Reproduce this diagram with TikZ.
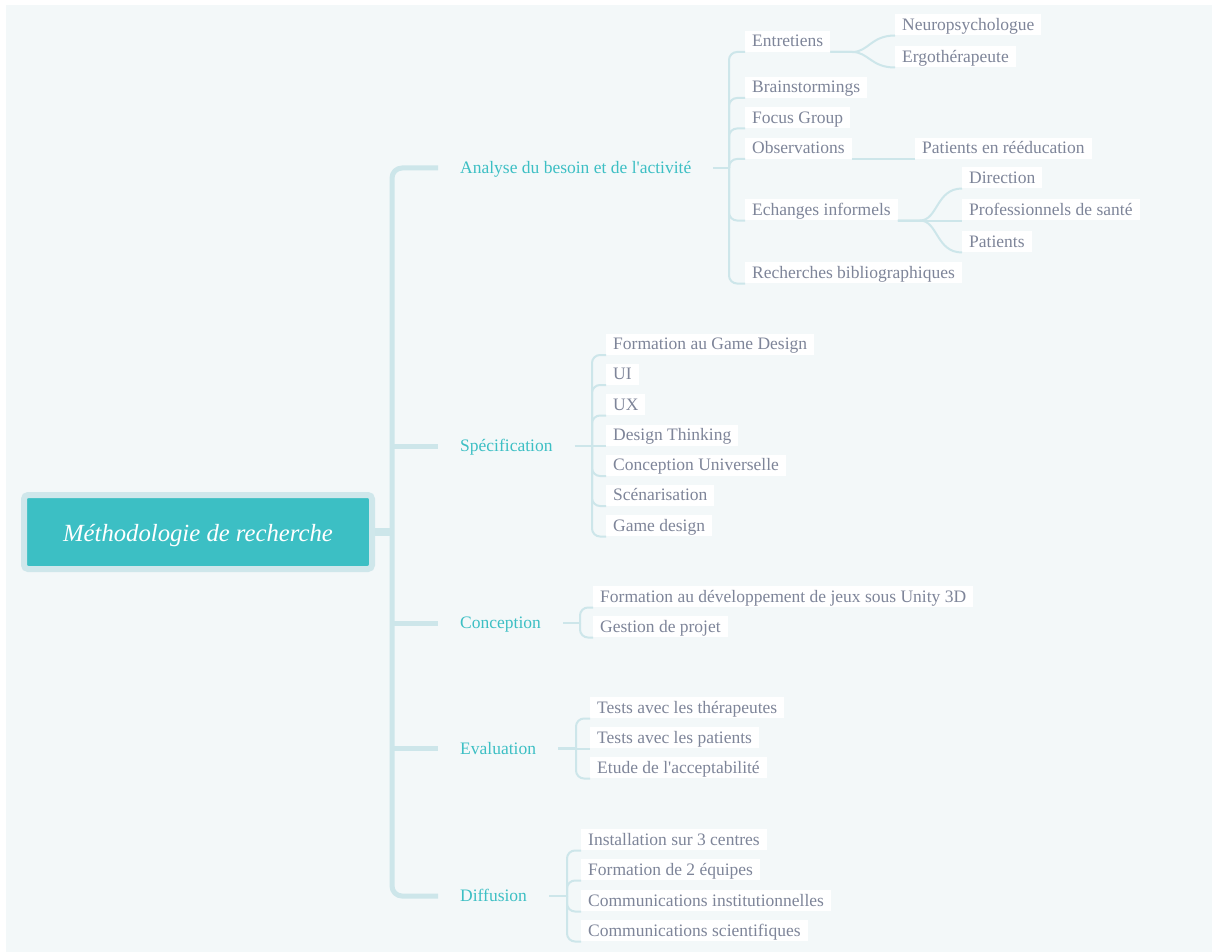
\documentclass[tikz,border=0pt]{standalone}
\usepackage{fontspec}
\setmainfont{Liberation Serif}
\usepackage{tikz}

\definecolor{bgmap}{HTML}{F3F8F9}
\definecolor{mapteal}{HTML}{3CBFC4}
\definecolor{mapglow}{HTML}{CFE7EB}
\definecolor{mapline}{HTML}{CDE6EA}
\definecolor{leaftext}{HTML}{7E8599}

\tikzset{
  rootbox/.style={fill=mapteal, draw=mapglow, line width=6pt, rounded corners=4pt,
    minimum width=348pt, minimum height=74pt, text=white,
    text height=18pt, text depth=0pt,
    font=\fontsize{24.7}{28}\selectfont\itshape},
  branch/.style={anchor=west, inner xsep=22pt, text=mapteal,
    text height=13.5pt, text depth=2.5pt,
    font=\fontsize{17.5}{20}\selectfont},
  leaf/.style={anchor=south west, fill=white, inner xsep=7pt, inner ysep=2.5pt,
    text height=13.5pt, text depth=2.5pt, text=leaftext,
    font=\fontsize{17.5}{20}\selectfont},
  trunk/.style={draw=mapline, line width=5pt, rounded corners=10pt},
  conn/.style={draw=mapline, line width=2pt, rounded corners=8pt},
}

\begin{document}
\begin{tikzpicture}[x=1pt, y=-1pt]
  \useasboundingbox (0,0) rectangle (1212,952);
  \fill[bgmap] (6,5) rectangle (1212,952);
  % central topic
  \node[rootbox] (root) at (198,532) {Méthodologie de recherche};
  % main branches
  \node[branch] (b1) at (438,168) {Analyse du besoin et de l\textquotesingle activité};
  \node[branch] (b2) at (438,446) {Spécification};
  \node[branch] (b3) at (438,623) {Conception};
  \node[branch] (b4) at (438,748.5) {Evaluation};
  \node[branch] (b5) at (438,896) {Diffusion};
  % trunk
  \coordinate (tr) at (392,532);
  \draw[trunk, line width=8pt] (root.east) -- (tr);
  \draw[trunk] (b1.west) -| (tr) |- (b5.west);
  \draw[trunk] (tr |- b2.west) -- (b2.west);
  \draw[trunk] (tr |- b3.west) -- (b3.west);
  \draw[trunk] (tr |- b4.west) -- (b4.west);

  % Analyse du besoin
  \node[leaf] (a1) at (745,52) {Entretiens};
  \node[leaf] (a2) at (745,98) {Brainstormings};
  \node[leaf] (a3) at (745,128.5) {Focus Group};
  \node[leaf] (a4) at (745,159) {Observations};
  \node[leaf] (a5) at (745,220.5) {Echanges informels};
  \node[leaf] (a6) at (745,283.5) {Recherches bibliographiques};
  \coordinate (j1) at (729,168);
  \draw[conn, line width=2.5pt] (b1.east) -- (j1);
  \draw[conn] (j1) |- (a1.south west);
  \draw[conn] (j1) |- (a2.south west);
  \draw[conn] (j1) |- (a3.south west);
  \draw[conn] (j1) |- (a4.south west);
  \draw[conn] (j1) |- (a5.south west);
  \draw[conn] (j1) |- (a6.south west);
  % third level
  \node[leaf] (c1) at (895,35.5) {Neuropsychologue};
  \node[leaf] (c2) at (895,67.5) {Ergothérapeute};
  \node[leaf] (c3) at (915,159) {Patients en rééducation};
  \node[leaf] (c4) at (962,188.5) {Direction};
  \node[leaf] (c5) at (962,220.5) {Professionnels de santé};
  \node[leaf] (c6) at (962,252.5) {Patients};
  \draw[conn] (a1.south east) -- ++(14,0) .. controls +(24,0) and +(-24,0) .. (c1.south west);
  \draw[conn] (a1.south east) -- ++(14,0) .. controls +(24,0) and +(-24,0) .. (c2.south west);
  \draw[conn] (a4.south east) -- (c3.south west);
  \draw[conn] (a5.south east) -- ++(14,0) .. controls +(26,0) and +(-26,0) .. (c4.south west);
  \draw[conn] (a5.south east) -- (c5.south west);
  \draw[conn] (a5.south east) -- ++(14,0) .. controls +(26,0) and +(-26,0) .. (c6.south west);

  % Specification
  \node[leaf] (s1) at (606,355) {Formation au Game Design};
  \node[leaf] (s2) at (606,385) {UI};
  \node[leaf] (s3) at (606,415.5) {UX};
  \node[leaf] (s4) at (606,446) {Design Thinking};
  \node[leaf] (s5) at (606,476) {Conception Universelle};
  \node[leaf] (s6) at (606,506) {Scénarisation};
  \node[leaf] (s7) at (606,536.5) {Game design};
  \coordinate (j2) at (592,446);
  \draw[conn, line width=2.5pt] (b2.east) -- (j2);
  \draw[conn] (j2) |- (s1.south west);
  \draw[conn] (j2) |- (s2.south west);
  \draw[conn] (j2) |- (s3.south west);
  \draw[conn] (j2) -- (s4.south west);
  \draw[conn] (j2) |- (s5.south west);
  \draw[conn] (j2) |- (s6.south west);
  \draw[conn] (j2) |- (s7.south west);

  % Conception
  \node[leaf] (p1) at (593,607.5) {Formation au développement de jeux sous Unity 3D};
  \node[leaf] (p2) at (593,637.5) {Gestion de projet};
  \coordinate (j3) at (580,623);
  \draw[conn, line width=2.5pt] (b3.east) -- (j3);
  \draw[conn] (j3) |- (p1.south west);
  \draw[conn] (j3) |- (p2.south west);

  % Evaluation
  \node[leaf] (e1) at (590,718.5) {Tests avec les thérapeutes};
  \node[leaf] (e2) at (590,748.5) {Tests avec les patients};
  \node[leaf] (e3) at (590,778.5) {Etude de l\textquotesingle acceptabilité};
  \coordinate (j4) at (576,748.5);
  \draw[conn, line width=2.5pt] (b4.east) -- (j4);
  \draw[conn] (j4) |- (e1.south west);
  \draw[conn] (j4) -- (e2.south west);
  \draw[conn] (j4) |- (e3.south west);

  % Diffusion
  \node[leaf] (d1) at (581,850.5) {Installation sur 3 centres};
  \node[leaf] (d2) at (581,880.5) {Formation de 2 équipes};
  \node[leaf] (d3) at (581,911.5) {Communications institutionnelles};
  \node[leaf] (d4) at (581,941.5) {Communications scientifiques};
  \coordinate (j5) at (567,896);
  \draw[conn, line width=2.5pt] (b5.east) -- (j5);
  \draw[conn] (j5) |- (d1.south west);
  \draw[conn] (j5) |- (d2.south west);
  \draw[conn] (j5) |- (d3.south west);
  \draw[conn] (j5) |- (d4.south west);
\end{tikzpicture}
\end{document}
